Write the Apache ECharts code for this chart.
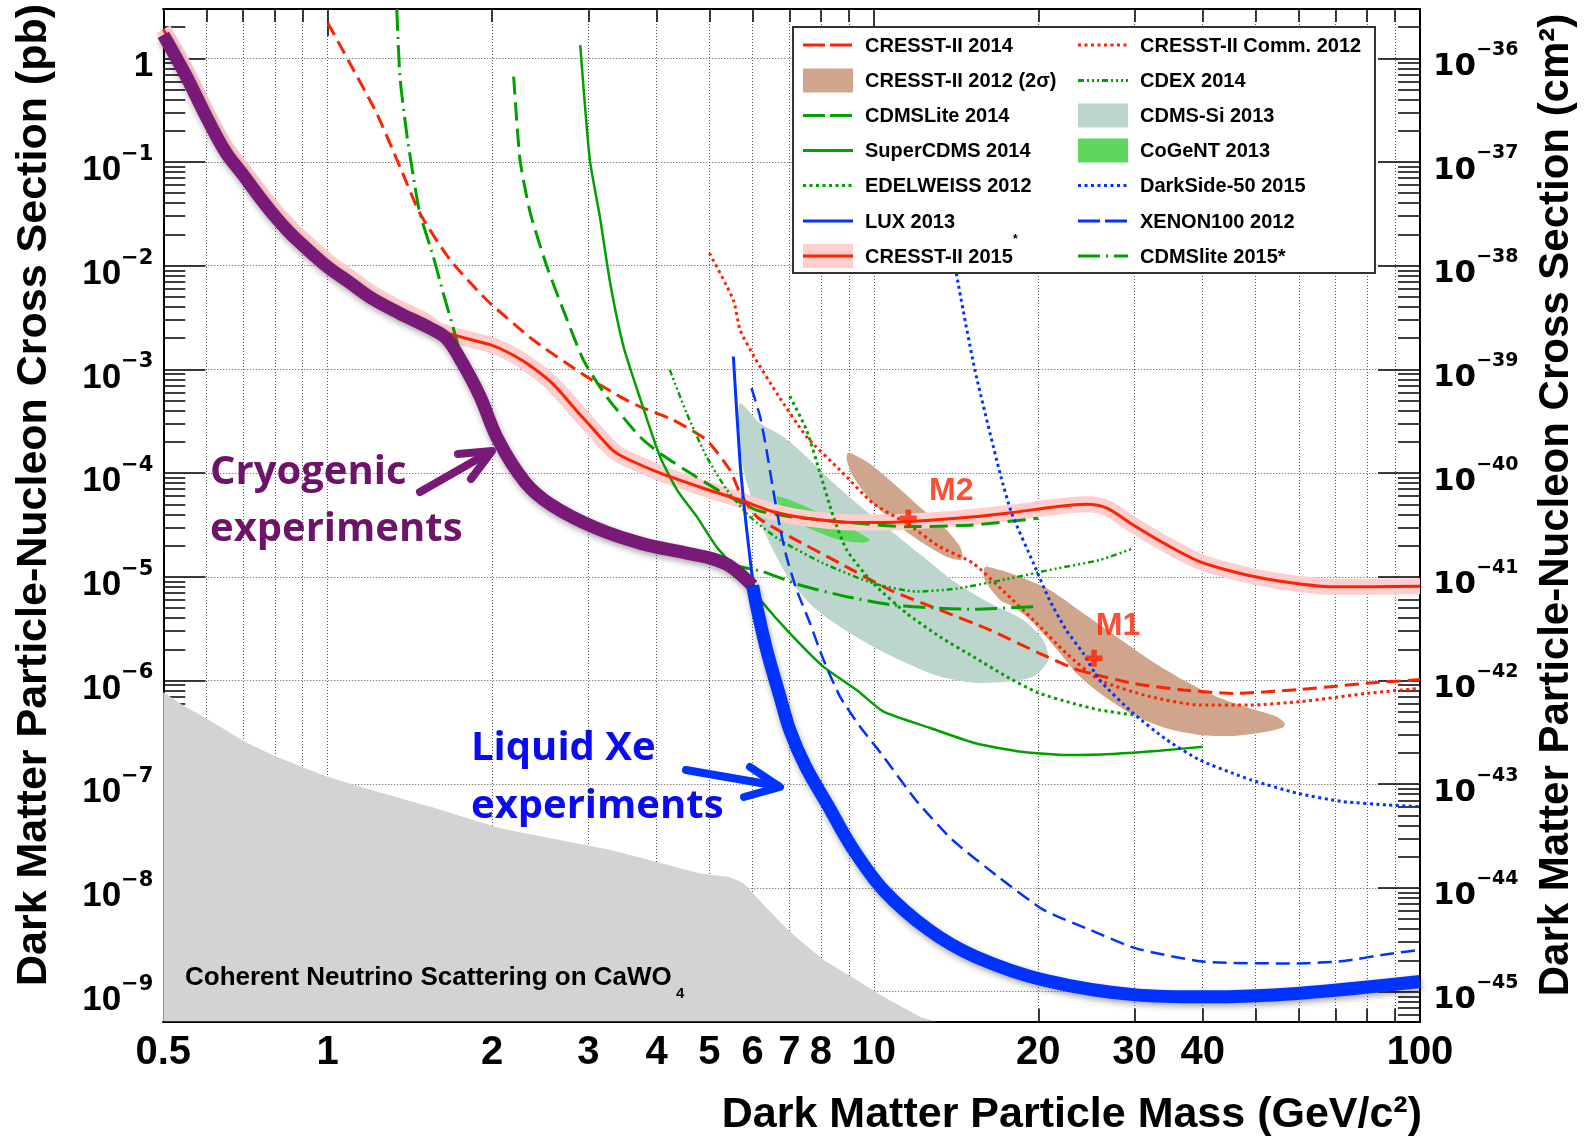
<!DOCTYPE html>
<html>
<head>
<meta charset="utf-8">
<script src="https://cdn.jsdelivr.net/npm/echarts@6/dist/echarts.min.js"></script>
<style>
  html, body { margin: 0; padding: 0; background: #fff; }
  #chart { width: 1585px; height: 1138px; }
</style>
</head>
<body>
<div id="chart"></div>
<script>
// ---------- axis ranges and tick values ----------
const X_RANGE = [0.5, 100];
const Y_RANGE = [5.15e-10, 2.985];
const xLabelValues = [0.5, 1, 2, 3, 4, 5, 6, 7, 8, 10, 20, 30, 40, 100];
const xMajorTicks = [1, 10];
const xGridValues = [0.6, 0.7, 0.8, 0.9, 1, 2, 3, 4, 5, 6, 7, 8, 9, 10, 20, 30, 40, 50, 60, 70, 80, 90];
const yDecades = [1e-9, 1e-8, 1e-7, 1e-6, 1e-5, 1e-4, 1e-3, 1e-2, 1e-1, 1];

// ---------- limits and regions: [mass GeV/c^2, cross section pb] ----------
const cresst2014 = [[1.0,2.2],[1.098,0.895],[1.229,0.295],[1.356,0.090],[1.475,0.032],[1.675,0.0114],[1.955,4.67e-3],[2.379,1.92e-3],[2.98,8.5e-4],[3.43,5.46e-4],[3.73,4.37e-4],[4.29,3.25e-4],[4.94,2.08e-4],[5.45,1.07e-4],[5.69,6.4e-5],[6.10,3.8e-5],[7.02,2.44e-5],[8.67,1.35e-5],[10.7,7.46e-6],[13.2,4.79e-6],[16.3,3.07e-6],[20.1,1.83e-6],[23.2,1.31e-6],[24.9,1.17e-6],[29.85,9.4e-7],[36.9,8.1e-7],[45.5,7.5e-7],[60.4,8.2e-7],[79.8,9.4e-7],[100,1.02e-6]];

const cresstComm2012 = [[5.0,0.0132],[5.53,4.67e-3],[5.69,2.4e-3],[6.05,1.3e-3],[6.64,5.9e-4],[7.53,2.24e-4],[8.67,1.07e-4],[9.97,5.1e-5],[11.48,3.28e-5],[13.2,1.95e-5],[15.2,1.35e-5],[17.3,7.2e-6],[19.6,3.83e-6],[22.5,1.83e-6],[25.9,1.01e-6],[32.0,7.0e-7],[39.5,5.8e-7],[48.8,5.8e-7],[60.4,6.25e-7],[79.8,7.5e-7],[100,8.4e-7]];

const cdmsLite2014 = [[2.19,0.665],[2.25,0.1045],[2.35,0.032],[2.52,9.8e-3],[2.70,3.74e-3],[2.94,1.23e-3],[3.24,5.46e-4],[3.73,2.24e-4],[4.06,1.55e-4],[4.61,1.0e-4],[5.30,6.4e-5],[6.10,4.4e-5],[7.02,3.8e-5],[8.67,3.4e-5],[11.48,3.04e-5],[15.2,3.16e-5],[20.0,3.67e-5]];

const superCdms2014 = [[2.90,1.34],[3.02,0.1045],[3.15,0.0297],[3.29,6.8e-3],[3.48,1.66e-3],[3.73,5.3e-4],[4.06,1.44e-4],[4.36,6.9e-5],[4.74,3.8e-5],[5.15,1.95e-5],[5.69,1.08e-5],[6.27,5.55e-6],[7.02,2.85e-6],[8.08,1.36e-6],[9.30,8.1e-7],[10.42,5.0e-7],[12.65,3.5e-7],[15.35,2.48e-7],[18.62,2.06e-7],[22.6,1.91e-7],[27.4,1.96e-7],[33.3,2.1e-7],[40.0,2.3e-7]];

const edelweiss2012 = [[7.02,5.5e-4],[7.53,2.6e-4],[7.97,1.0e-4],[8.43,3.8e-5],[8.92,1.81e-5],[9.97,8.65e-6],[11.48,4.45e-6],[13.21,2.64e-6],[15.2,1.7e-6],[17.5,1.09e-6],[20.0,7.6e-7],[23.2,6.0e-7],[25.9,5.2e-7],[29.85,4.65e-7]];

const cdex2014 = [[4.23,9.9e-4],[4.54,3.8e-4],[4.94,1.44e-4],[5.38,6.9e-5],[5.93,3.8e-5],[6.73,2.26e-5],[8.08,1.35e-5],[9.97,8.65e-6],[11.97,7.2e-6],[14.18,7.7e-6],[17.5,9.5e-6],[21.6,1.2e-5],[25.9,1.45e-5],[29.85,1.88e-5]];

const darkSide2015 = [[14.05,1.3e-2],[14.18,8.1e-3],[15.31,9.9e-4],[17.02,1.0e-4],[17.88,4.1e-5],[19.6,1.35e-5],[20.96,6.0e-6],[22.5,3.07e-6],[24.17,1.83e-6],[25.9,1.01e-6],[29.85,4.83e-7],[34.4,2.67e-7],[39.5,1.71e-7],[45.5,1.27e-7],[49.0,1.1e-7],[59.5,8.2e-8],[72.2,6.8e-8],[87.6,6.3e-8],[100,6.07e-8]];

const xenon100 = [[5.97,6.6e-4],[6.19,3.5e-4],[6.36,1.67e-4],[6.54,6.9e-5],[6.73,3.0e-5],[6.92,1.56e-5],[7.22,7.5e-6],[7.64,3.56e-6],[8.08,1.6e-6],[8.67,7.0e-7],[9.43,3.6e-7],[10.42,1.84e-7],[11.93,7.05e-8],[13.93,2.9e-8],[16.9,1.28e-8],[20.5,6.1e-9],[24.9,3.93e-9],[30.2,2.61e-9],[40.4,1.94e-9],[59.5,1.87e-9],[72.2,1.97e-9],[87.6,2.31e-9],[100,2.52e-9]];

const lux2013 = [[5.53,1.33e-3],[5.69,1.24e-4],[5.85,2.83e-5],[6.03,7.5e-6],[6.1,5.2e-6],[6.36,2.0e-6],[6.73,7.0e-7],[7.02,3.3e-7],[7.5,1.48e-7],[8.26,6.1e-8],[9.1,2.5e-8],[10.42,9.5e-9],[12.64,3.9e-9],[15.35,2.17e-9],[20.5,1.29e-9],[30.2,9.3e-10],[40.4,8.9e-10],[59.5,9.6e-10],[100,1.25e-9]];

const cdmsLite2015 = [[1.338,2.98],[1.356,0.665],[1.395,0.189],[1.435,0.072],[1.475,0.032],[1.561,0.0122],[1.628,5.4e-3],[1.722,1.92e-3],[1.765,1.1e-3],[1.9,5.2e-4],[2.05,2.0e-4],[2.3,8.0e-5],[2.57,4.8e-5],[3.1,2.9e-5],[3.75,2.05e-5],[4.52,1.65e-5],[5.06,1.45e-5],[5.7,1.25e-5],[6.27,1.12e-5],[7.32,8.34e-6],[8.92,6.43e-6],[10.85,5.35e-6],[13.21,4.97e-6],[15.2,4.86e-6],[19.58,5.15e-6]];

const cresst2015 = [[0.5,1.9],[0.55,0.77],[0.6,0.3],[0.65,0.14],[0.7,0.084],[0.75,0.052],[0.8,0.034],[0.85,0.024],[0.9,0.018],[1.0,0.011],[1.1,0.0077],[1.2,0.0055],[1.35,0.0039],[1.5,0.003],[1.607,0.00235],[1.976,0.00174],[2.127,0.00148],[2.31,0.00115],[2.572,7.4e-4],[2.88,3.8e-4],[3.10,2.47e-4],[3.35,1.61e-4],[3.61,1.30e-4],[4.12,9.7e-5],[4.97,6.9e-5],[5.69,5.5e-5],[6.54,4.24e-5],[7.53,3.66e-5],[9.3,3.33e-5],[11.48,3.4e-5],[14.18,3.66e-5],[17.5,4.1e-5],[21.6,4.74e-5],[24.5,5.0e-5],[26.7,4.6e-5],[29.85,3.16e-5],[34.4,2.03e-5],[39.5,1.40e-5],[45.5,1.12e-5],[52.4,9.5e-6],[60.4,8.5e-6],[69.4,8.0e-6],[100,8.1e-6]];

// best limit envelopes highlighted with thick strokes
const cryogenicEnvelope = [[0.5,1.68],[0.55,0.68],[0.6,0.27],[0.65,0.125],[0.7,0.075],[0.75,0.046],[0.8,0.03],[0.85,0.021],[0.9,0.0158],[1.0,0.0097],[1.1,0.0068],[1.2,0.0049],[1.35,0.0035],[1.539,0.0025],[1.651,0.00198],[1.765,0.00115],[1.9,5.5e-4],[2.052,2.08e-4],[2.297,8.2e-5],[2.572,4.9e-5],[3.1,2.95e-5],[3.75,2.1e-5],[4.52,1.7e-5],[5.06,1.49e-5],[5.46,1.26e-5],[6.0,8.2e-6]];

const liquidXeEnvelope = [[6.0,8.2e-6],[6.1,5.2e-6],[6.36,2.0e-6],[6.73,7.0e-7],[7.02,3.3e-7],[7.5,1.48e-7],[8.26,6.1e-8],[9.1,2.5e-8],[10.42,9.5e-9],[12.64,3.9e-9],[15.35,2.17e-9],[20.5,1.29e-9],[30.2,9.3e-10],[40.4,8.9e-10],[59.5,9.6e-10],[100,1.25e-9]];

const neutrinoFloor = [[0.5,7.75e-7],[0.548,5.6e-7],[0.6,4.3e-7],[0.7,2.63e-7],[0.8,1.87e-7],[0.9,1.46e-7],[1.0,1.18e-7],[1.18,9.05e-8],[1.56,5.95e-8],[2.07,3.77e-8],[3.24,2.37e-8],[4.81,1.38e-8],[5.4,1.28e-8],[5.77,1.11e-8],[6.42,6.1e-9],[7.07,3.65e-9],[8.1,2.02e-9],[9.1,1.39e-9],[10.42,8.9e-10],[12.17,5.7e-10],[13.0,5.15e-10]];

const cdmsSi2013 = [[5.69,4.71e-4],[6.19,3.02e-4],[6.83,2.24e-4],[7.53,1.44e-4],[8.20,9.23e-5],[9.30,5.12e-5],[10.70,2.83e-5],[12.31,1.56e-5],[14.18,8.65e-6],[16.32,5.55e-6],[18.77,3.83e-6],[20.42,2.46e-6],[20.86,1.58e-6],[19.58,1.09e-6],[17.5,9.73e-7],[15.2,9.52e-7],[13.21,1.09e-6],[11.48,1.47e-6],[9.97,2.12e-6],[8.67,3.3e-6],[7.74,5.15e-6],[7.02,9.3e-6],[6.54,1.81e-5],[6.10,4.1e-5],[5.77,1.07e-4],[5.65,2.6e-4]];

const cogent2013 = [[6.64,5.92e-5],[7.02,5.5e-5],[7.74,4.41e-5],[8.67,3.28e-5],[9.43,2.63e-5],[9.83,2.26e-5],[9.56,2.13e-5],[8.67,2.26e-5],[7.74,2.83e-5],[7.12,3.53e-5],[6.73,4.74e-5]];

const cresst2012M2 = [[8.98,1.57e-4],[9.70,1.29e-4],[10.85,7.98e-5],[12.31,4.41e-5],[13.59,2.83e-5],[14.38,1.95e-5],[14.54,1.56e-5],[14.38,1.45e-5],[13.59,1.56e-5],[12.31,2.1e-5],[11.16,3.04e-5],[9.97,5.12e-5],[9.17,9.23e-5],[8.92,1.34e-4]];

const cresst2012M1 = [[15.97,1.24e-5],[17.02,1.16e-5],[18.51,1.0e-5],[21.0,7.46e-6],[24.17,4.45e-6],[27.83,2.64e-6],[32.03,1.58e-6],[36.86,1.01e-6],[42.43,6.98e-7],[48.83,5.4e-7],[54.64,4.48e-7],[56.57,3.86e-7],[56.2,3.54e-7],[52.37,3.21e-7],[45.5,2.92e-7],[39.5,2.98e-7],[34.36,3.46e-7],[29.85,4.65e-7],[25.94,7.53e-7],[23.5,1.17e-6],[21.92,1.83e-6],[20.14,3.07e-6],[19.04,4.12e-6],[18.0,5.15e-6],[17.02,5.97e-6],[15.97,9.3e-6]];

const bestFitM1 = [[25.3, 1.64e-6]];
const bestFitM2 = [[11.56, 3.67e-5]];

// ---------- styling ----------
const FONT = '"Liberation Sans", Arial, Helvetica, sans-serif';
const WIDE = '"DejaVu Sans", sans-serif';
const RED = '#ff2200', GREEN = '#00a000', BLUE = '#0033ff', PURPLE = '#7a1a78';
const BROWN = '#cfa58c', SI = '#bcd6cd', COGENT = '#5fd75f', PINK = '#ffcfcf', GREY = '#d3d3d3';
const DASH_LONG = [14, 7], DASH_GREEN = [18, 8], DOTS = [3, 3.5];
const DASH_CDEX = [6, 3, 2, 3, 2, 3, 2, 3], DASH_LITE15 = [22, 6, 2, 6];

const yMinorTicks = [];
for (let e = -10; e <= 0; e++) {
  for (let k = 2; k <= 9; k++) {
    const v = k * Math.pow(10, e);
    if (v > Y_RANGE[0] && v < Y_RANGE[1]) yMinorTicks.push(v);
  }
}

function baseAxis(range, pos, ticks, len) {
  return {
    type: 'log', logBase: 10, min: range[0], max: range[1], position: pos,
    axisLine: { show: true, onZero: false, lineStyle: { color: '#000', width: 2 } },
    axisTick: { show: true, inside: true, length: len, customValues: ticks, lineStyle: { color: '#000', width: 1.5 } },
    axisLabel: { show: false },
    splitLine: { show: false },
    minorTick: { show: false }, minorSplitLine: { show: false }
  };
}
const gridDots = { show: true, lineStyle: { type: [1, 2], color: '#555', width: 1 } };

const xAxes = [
  Object.assign(baseAxis(X_RANGE, 'bottom', xGridValues, 13), { splitLine: gridDots }),
  Object.assign(baseAxis(X_RANGE, 'bottom', xMajorTicks, 27), {
    axisLabel: {
      show: true, customValues: xLabelValues, margin: 11,
      formatter: v => String(Math.round(v * 10) / 10),
      fontFamily: FONT, fontWeight: 'bold', fontSize: 40, color: '#000'
    }
  }),
  baseAxis(X_RANGE, 'top', xGridValues, 13),
  baseAxis(X_RANGE, 'top', xMajorTicks, 27)
];

// "10" with a raised negative exponent; base shifts pb to cm^2 (1 pb = 1e-36 cm^2)
function supLabel(v, base) {
  const e = Math.round(Math.log10(v));
  const p = base - e;
  if (p === 0) return '{b|1}';
  return '{b|10}{s|\u2212' + p + '}';
}
const yAxes = [
  baseAxis(Y_RANGE, 'left', yMinorTicks, 22),
  Object.assign(baseAxis(Y_RANGE, 'left', yDecades, 42), {
    splitLine: gridDots,
    axisLabel: {
      show: true, customValues: yDecades, margin: 10, padding: [8, 0, 0, 0],
      formatter: v => supLabel(v, 0),
      rich: {
        b: { fontFamily: FONT, fontWeight: 'bold', fontSize: 35, lineHeight: 44, verticalAlign: 'bottom', color: '#000' },
        s: { fontFamily: WIDE, fontWeight: 'bold', fontSize: 21, lineHeight: 24, verticalAlign: 'top', color: '#000' }
      }
    }
  }),
  baseAxis(Y_RANGE, 'right', yMinorTicks, 22),
  Object.assign(baseAxis(Y_RANGE, 'right', yDecades, 42), {
    axisLabel: {
      show: true, customValues: yDecades, margin: 13, padding: [6, 0, 0, 0],
      formatter: v => supLabel(v, 36),
      rich: {
        b: { fontFamily: WIDE, fontWeight: 'bold', fontSize: 31, lineHeight: 42, verticalAlign: 'bottom', color: '#000' },
        s: { fontFamily: WIDE, fontWeight: 'bold', fontSize: 19, lineHeight: 22, verticalAlign: 'top', color: '#000' }
      }
    }
  })
];

function limitLine(name, data, color, width, type, z, extra) {
  return Object.assign({
    name, type: 'line', data, z, silent: true,
    showSymbol: false, symbol: 'none', smooth: 0.2,
    lineStyle: { color, width, type },
    itemStyle: { color }
  }, extra || {});
}
function region(name, pts, color, z) {
  return {
    name, type: 'custom', z, silent: true, data: pts,
    renderItem: (params, api) => {
      if (params.dataIndex !== 0) return null;
      return {
        type: 'polygon',
        shape: { points: pts.map(p => api.coord(p)), smooth: 0.25 },
        style: { fill: color }
      };
    }
  };
}
const PLUS = 'path://M-1,-3H1V-1H3V1H1V3H-1V1H-3V-1H-1Z';
function bestFit(name, data, offset) {
  return {
    name, type: 'scatter', data, z: 20, silent: true,
    symbol: PLUS, symbolSize: 17, itemStyle: { color: RED },
    label: { show: true, formatter: name, position: 'inside', offset,
      fontFamily: FONT, fontWeight: 'bold', fontSize: 32, color: RED }
  };
}
const thickShadow = { shadowBlur: 6, shadowColor: 'rgba(0,0,0,0.35)', shadowOffsetX: 1, shadowOffsetY: 3 };

const series = [
  limitLine('Coherent Neutrino Scattering', neutrinoFloor, GREY, 0, 'solid', 1,
    { smooth: 0.1, areaStyle: { color: GREY, opacity: 1, origin: 'start' } }),
  region('CDMS-Si 2013', cdmsSi2013, SI, 2),
  region('CoGeNT 2013', cogent2013, COGENT, 3),
  region('CRESST-II 2012 M2', cresst2012M2, BROWN, 3),
  region('CRESST-II 2012 M1', cresst2012M1, BROWN, 3),
  limitLine('CRESST-II 2015 band', cresst2015, PINK, 16, 'solid', 4, { smooth: 0.3 }),
  limitLine('CRESST-II 2014', cresst2014, RED, 3, DASH_LONG, 5),
  limitLine('CRESST-II Comm. 2012', cresstComm2012, RED, 3, DOTS, 5),
  limitLine('CDMSLite 2014', cdmsLite2014, GREEN, 3, DASH_GREEN, 5),
  limitLine('SuperCDMS 2014', superCdms2014, GREEN, 2.5, 'solid', 5),
  limitLine('EDELWEISS 2012', edelweiss2012, GREEN, 3, DOTS, 5),
  limitLine('CDEX 2014', cdex2014, GREEN, 2.5, DASH_CDEX, 5),
  limitLine('DarkSide-50 2015', darkSide2015, BLUE, 3, DOTS, 5),
  limitLine('XENON100 2012', xenon100, BLUE, 2.5, DASH_LONG, 5),
  limitLine('LUX 2013', lux2013, BLUE, 3, 'solid', 5),
  limitLine('CDMSlite 2015*', cdmsLite2015, GREEN, 3, DASH_LITE15, 5),
  limitLine('CRESST-II 2015', cresst2015, RED, 3, 'solid', 6, { smooth: 0.3 }),
  limitLine('Cryogenic experiments', cryogenicEnvelope, PURPLE, 13, 'solid', 8,
    { smooth: 0.35, lineStyle: Object.assign({ color: PURPLE, width: 13, cap: 'butt', join: 'round' }, thickShadow) }),
  limitLine('Liquid Xe experiments', liquidXeEnvelope, BLUE, 13, 'solid', 8,
    { smooth: 0.35, lineStyle: Object.assign({ color: BLUE, width: 13, cap: 'butt', join: 'round' }, thickShadow) }),
  bestFit('M2', bestFitM2, [43, -27]),
  bestFit('M1', bestFitM1, [24, -32])
];

// ---------- legend, titles and annotations ----------
const LEG = { x: 793, y: 27, w: 582, h: 246, rows: [45, 80.5, 115.5, 150.5, 185.5, 221, 256],
  sym: [803, 1078], txt: [865, 1140] };
const legendEntries = [
  { col: 0, row: 0, text: 'CRESST-II 2014', line: [RED, [22, 5]] },
  { col: 0, row: 1, text: 'CRESST-II 2012 (2\u03c3)', box: BROWN },
  { col: 0, row: 2, text: 'CDMSLite 2014', line: [GREEN, [22, 5]] },
  { col: 0, row: 3, text: 'SuperCDMS 2014', line: [GREEN, null] },
  { col: 0, row: 4, text: 'EDELWEISS 2012', line: [GREEN, DOTS] },
  { col: 0, row: 5, text: 'LUX 2013', line: [BLUE, null] },
  { col: 0, row: 6, text: 'CRESST-II 2015', box: PINK, line: [RED, null], star: true },
  { col: 1, row: 0, text: 'CRESST-II Comm. 2012', line: [RED, DOTS] },
  { col: 1, row: 1, text: 'CDEX 2014', line: [GREEN, DASH_CDEX] },
  { col: 1, row: 2, text: 'CDMS-Si 2013', box: SI },
  { col: 1, row: 3, text: 'CoGeNT 2013', box: COGENT },
  { col: 1, row: 4, text: 'DarkSide-50 2015', line: [BLUE, DOTS] },
  { col: 1, row: 5, text: 'XENON100 2012', line: [BLUE, [22, 5]] },
  { col: 1, row: 6, text: 'CDMSlite 2015*', line: [GREEN, DASH_LITE15] }
];

function txt(x, y, text, font, fill, align, vAlign, extra) {
  return Object.assign({
    type: 'text', x, y, z: 110, silent: true,
    style: { text, font, fill, align, verticalAlign: vAlign, textAlign: align, textVerticalAlign: vAlign }
  }, extra || {});
}

const graphics = [];
graphics.push({ type: 'rect', z: 100, silent: true,
  shape: { x: LEG.x, y: LEG.y, width: LEG.w, height: LEG.h },
  style: { fill: '#fff', stroke: '#333', lineWidth: 2 } });
legendEntries.forEach(en => {
  const sx = LEG.sym[en.col], cy = LEG.rows[en.row];
  if (en.box) graphics.push({ type: 'rect', z: 105, silent: true,
    shape: { x: sx, y: cy - 12, width: 50, height: 24 }, style: { fill: en.box } });
  if (en.line) graphics.push({ type: 'line', z: 106, silent: true,
    shape: { x1: sx, y1: cy, x2: sx + 50, y2: cy },
    style: { stroke: en.line[0], lineWidth: 3, lineDash: en.line[1] || null } });
  graphics.push(txt(LEG.txt[en.col], cy + 1, en.text, 'bold 20px ' + FONT, '#000', 'left', 'middle'));
  if (en.star) graphics.push(txt(1013, 240, '*', 'bold 12px ' + FONT, '#000', 'left', 'middle'));
});

// axis titles
graphics.push(txt(34, 495, 'Dark Matter Particle-Nucleon Cross Section (pb)', 'bold 43px ' + FONT, '#000',
  'center', 'middle', { rotation: Math.PI / 2 }));
graphics.push(txt(1556, 505, 'Dark Matter Particle-Nucleon Cross Section (cm\u00b2)', 'bold 42px ' + FONT, '#000',
  'center', 'middle', { rotation: Math.PI / 2 }));
graphics.push(txt(1422, 1115, 'Dark Matter Particle Mass (GeV/c\u00b2)', 'bold 43px ' + FONT, '#000', 'right', 'middle'));

// annotations
const ANN = '"Open Sans", "Lato", sans-serif';
graphics.push(txt(210, 473, 'Cryogenic', 'bold 40px ' + ANN, '#6e1468', 'left', 'middle'));
graphics.push(txt(210, 530, 'experiments', 'bold 40px ' + ANN, '#6e1468', 'left', 'middle'));
graphics.push(txt(471, 749, 'Liquid Xe', 'bold 40px ' + ANN, '#0a0af5', 'left', 'middle'));
graphics.push(txt(471, 807, 'experiments', 'bold 40px ' + ANN, '#0a0af5', 'left', 'middle'));
graphics.push(txt(185, 978, 'Coherent Neutrino Scattering on CaWO', 'bold 26px ' + FONT, '#000', 'left', 'middle'));
graphics.push(txt(676, 994, '4', 'bold 15px ' + FONT, '#000', 'left', 'middle'));

function arrow(shaft, head, color) {
  graphics.push({ type: 'polyline', z: 110, silent: true, shape: { points: shaft },
    style: { stroke: color, lineWidth: 8, fill: 'none', lineCap: 'round', lineJoin: 'round' } });
  graphics.push({ type: 'polyline', z: 110, silent: true, shape: { points: head },
    style: { stroke: color, lineWidth: 8, fill: 'none', lineCap: 'round', lineJoin: 'round' } });
}
arrow([[420, 492], [490, 452]], [[458, 454], [492, 451], [471, 479]], PURPLE);
arrow([[686, 770], [778, 786]], [[750, 767], [780, 787], [744, 797]], BLUE);

const chart = echarts.init(document.getElementById('chart'), null, { renderer: 'canvas' });
chart.setOption({
  animation: false,
  backgroundColor: '#fff',
  grid: { left: 163.3, right: 165, top: 9, bottom: 116.5, containLabel: false, outerBoundsMode: 'none' },
  xAxis: xAxes,
  yAxis: yAxes,
  series,
  graphic: { elements: graphics }
});
</script>
</body>
</html>
